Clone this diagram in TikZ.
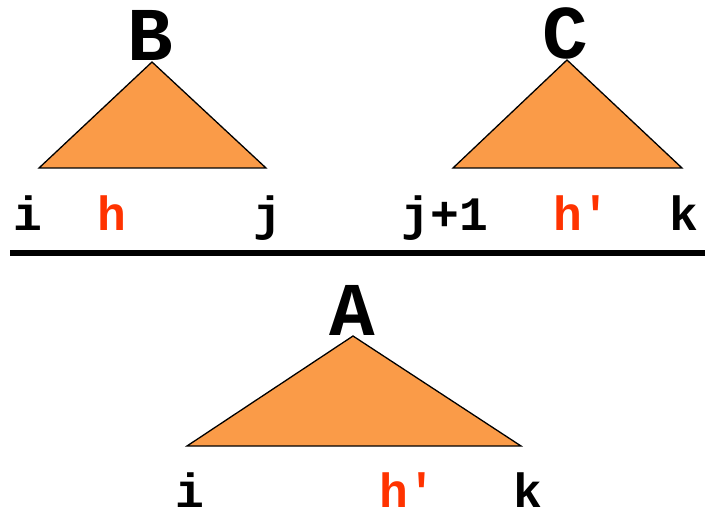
\documentclass[tikz,border=0pt]{standalone}
\usepackage{fontspec}
\setmonofont{Liberation Mono}
\definecolor{tri}{RGB}{250,155,72}
\definecolor{hred}{RGB}{255,51,0}
\begin{document}
\begin{tikzpicture}[x=1pt,y=-1pt,
  trishape/.style={fill=tri,draw=black,line width=1.3pt,line join=miter},
  big/.style={font=\fontsize{76}{76}\selectfont\ttfamily\bfseries,inner sep=0pt,anchor=base},
  lab/.style={font=\fontsize{48}{48}\selectfont\ttfamily\bfseries,inner sep=0pt,anchor=base},
  headlab/.style={lab,text=hred},
  lowlab/.style={text depth=0pt}]
\useasboundingbox (0,0) rectangle (705,513);
% triangle B
\coordinate (Btop) at (152,62);
\coordinate (Bl) at (39,168);
\coordinate (Br) at (266,168);
\draw[trishape] (Btop) -- (Bl) -- (Br) -- cycle;
% triangle C
\coordinate (Ctop) at (567,60);
\coordinate (Cl) at (453,168);
\coordinate (Cr) at (682,168);
\draw[trishape] (Ctop) -- (Cl) -- (Cr) -- cycle;
% triangle A
\coordinate (Atop) at (353,336);
\coordinate (Al) at (187,446);
\coordinate (Ar) at (521,446);
\draw[trishape] (Atop) -- (Al) -- (Ar) -- cycle;
% labels
\node[big] (B) at (150,61) {B};
\node[big] (C) at (565,59) {C};
\node[big] (A) at (352,336) {A};
\node[lab] (i1) at (28,231) {i};
\node[headlab] (h1) at (112,231) {h};
\node[lab] (j1) at (268,231) {j};
\node[lab] (j2) at (445,231) {j+1};
\node[headlab] (h2) at (582,231) {h′};
\node[lab] (k1) at (684,231) {k};
\node[lab,lowlab] (i2) at (190,507) {i};
\node[headlab,lowlab] (h3) at (408,507) {h′};
\node[lab,lowlab] (k2) at (528,507) {k};
% rule
\coordinate (L1) at (10,253);
\coordinate (L2) at (705,253);
\draw[line width=6pt] (L1) -- (L2);
\end{tikzpicture}
\end{document}
